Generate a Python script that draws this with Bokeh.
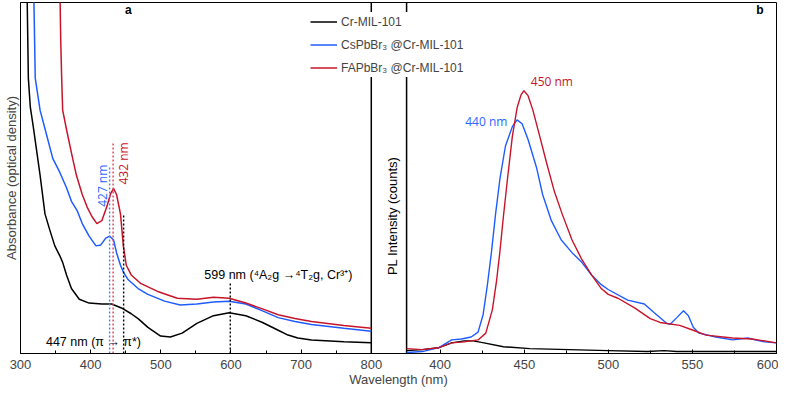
from bokeh.plotting import figure
from bokeh.models import Range1d, FixedTicker, Label, Legend, LegendItem
from bokeh.embed import file_html
from bokeh.resources import INLINE

# ---------------- data: panel a (UV-vis absorbance) ----------------
abs_cr_nm = [309, 311.2, 314.0, 318.2, 327.9, 334.9, 341.9, 348.9, 355.9, 360.1, 365.6, 372.6,
             383.8, 397.8, 415.9, 429.9, 443.9, 457.8, 467.6, 481.6, 499.7, 513.7, 530.4,
             551.4, 575.1, 597.5, 621.2, 645.0, 667.3, 681.3, 695.3, 714.8, 760.9, 800]
abs_cr = [3.9, 2.84, 2.54, 2.34, 1.84, 1.44, 1.27, 1.11, 1.01, 0.94, 0.81, 0.67,
          0.56, 0.52, 0.51, 0.51, 0.47, 0.41, 0.36, 0.27, 0.18, 0.17, 0.21,
          0.31, 0.39, 0.42, 0.39, 0.32, 0.24, 0.19, 0.16, 0.14, 0.12, 0.11]

abs_cs_nm = [318.5, 321.0, 327.9, 337.7, 346.1, 355.9, 365.6, 372.6, 381.0, 388.0, 397.8,
             407.5, 414.5, 421.5, 427.1, 432.7, 436.9, 442.5, 446.6, 453.6, 467.6, 481.6,
             505.3, 527.7, 551.4, 575.1, 597.5, 621.2, 645.0, 667.3, 691.1, 714.8, 760.9, 800]
abs_cs = [3.9, 2.84, 2.51, 2.24, 2.01, 1.87, 1.71, 1.57, 1.47, 1.34, 1.21,
          1.11, 1.12, 1.19, 1.21, 1.17, 1.04, 0.91, 0.84, 0.76, 0.67, 0.61,
          0.54, 0.50, 0.51, 0.53, 0.54, 0.51, 0.44, 0.37, 0.33, 0.30, 0.26, 0.23]

abs_fa_nm = [355.9, 357.3, 358.7, 360.1, 365.6, 372.6, 379.6, 388.0, 395.0, 402.0, 408.9,
             415.9, 422.9, 428.5, 432.7, 436.9, 442.5, 446.6, 450.8, 457.8, 471.8, 495.5,
             523.5, 551.4, 575.1, 597.5, 621.2, 645.0, 667.3, 691.1, 714.8, 760.9, 800]
abs_fa = [3.9, 3.24, 2.84, 2.51, 2.31, 2.07, 1.84, 1.64, 1.51, 1.41, 1.34,
          1.37, 1.51, 1.65, 1.70, 1.64, 1.44, 1.11, 0.91, 0.81, 0.72, 0.64,
          0.57, 0.56, 0.58, 0.57, 0.52, 0.46, 0.40, 0.36, 0.33, 0.29, 0.26]

# ---------------- data: panel b (photoluminescence) ----------------
pl_cr_nm = [380, 389.3, 399.2, 406.8, 414.3, 419.6, 426.0, 437.6, 453.3, 476.6, 499.9,
            523.2, 533.1, 540.7, 600]
pl_cr = [300, 400, 600, 1100, 1300, 1300, 1100, 700, 500, 400, 300,
         200, 300, 200, 200]

pl_cs_nm = [380, 389.3, 399.2, 406.8, 412.6, 418.4, 422.5, 425.5, 428.0, 430.5, 433.0,
            435.5, 438.8, 442.9, 445.7, 448.7, 452.2, 457.4, 460.9, 466.1, 472.0, 478.4,
            484.2, 490.0, 495.8, 499.9, 511.5, 521.4, 527.3, 534.8, 536.6, 540.7, 544.7,
            547.6, 550.5, 554.0, 563.9, 573.8, 583.1, 587.2, 593.0, 600]
pl_cs = [100, 200, 600, 1400, 1500, 1700, 2200, 4000, 7000, 10500, 14500,
         18000, 21400, 23400, 24100, 23700, 22100, 19100, 16400, 13700, 11700, 10400,
         9400, 8100, 7100, 6600, 5500, 5100, 4200, 3100, 3000, 3700, 4400,
         3900, 2700, 2100, 1700, 1400, 1600, 1400, 1200, 1100]

pl_fa_nm = [380, 389.3, 399.2, 406.8, 414.3, 422.5, 427.1, 431.0, 433.5, 435.5, 437.5,
            440.0, 442.9, 445.8, 448.1, 449.8, 452.2, 455.1, 459.2, 463.2, 467.9, 472.5,
            478.4, 484.2, 490.0, 495.8, 499.9, 505.7, 515.6, 524.9, 530.8, 542.4, 550.5,
            558.1, 573.8, 585.5, 600]
pl_fa = [500, 400, 600, 1100, 1200, 1400, 2100, 4500, 7500, 10500, 14000,
         18000, 22400, 25400, 26700, 27100, 26600, 25100, 22400, 19700, 16700, 14400,
         11700, 9700, 8100, 6700, 6100, 5700, 4700, 3600, 3200, 2900, 2400,
         1900, 1600, 1500, 1100]

# ticks
abs_ticks = [300, 400, 500, 600, 700, 800]
abs_minor = [350, 450, 550, 650, 750]
pl_ticks = [400, 450, 500, 550, 600]
pl_minor = [425, 475, 525, 575]

# marked band positions (dotted drop lines)
mark_nm = [427, 432, 447, 599]
mark_top = [1.94, 2.17, 1.44, 0.74]
mark_color = ["#4f7dff", "#e0405a", "#000000", "#000000"]

series_names = ["Cr-MIL-101", "CsPbBr\u2083 @Cr-MIL-101", "FAPbBr\u2083 @Cr-MIL-101"]
series_colors = ["#000000", "#1f5cff", "#c8142a"]

# ---------------- layout ----------------
FONT = "Liberation Sans"
FA = 0.464     # fraction of frame width used by panel a
FB0 = 0.5107   # fraction where panel b starts

x_a = Range1d(300, 300 + 500 / FA)
x_b = Range1d(600 - 220 / (1 - FB0), 600)
y_a = Range1d(0, 3.62)
y_b = Range1d(0, 36200)

p = figure(width=778, height=390, x_range=x_a, y_range=y_a,
           output_backend="svg", toolbar_location=None,
           min_border_left=20, min_border_right=2, min_border_top=2, min_border_bottom=37)
p.extra_x_ranges = {"pl": x_b}
p.extra_y_ranges = {"pl": y_b}
p.xgrid.visible = False
p.ygrid.visible = False
p.outline_line_color = "black"
p.outline_line_width = 1
p.background_fill_color = "white"
p.border_fill_color = "white"


def to_a(v):
    return x_a.start + (v - x_b.start) * (x_a.end - x_a.start) / (x_b.end - x_b.start)


major = [float(t) for t in abs_ticks] + [to_a(t) for t in pl_ticks]
minor = [float(t) for t in abs_minor] + [to_a(t) for t in pl_minor]
labels = [str(t) for t in abs_ticks] + [str(t) for t in pl_ticks]

xa = p.xaxis[0]
xa.ticker = FixedTicker(ticks=major, minor_ticks=minor)
xa.major_label_overrides = {m: l for m, l in zip(major, labels)}
xa.axis_label = "Wavelength (nm)"
xa.axis_label_text_font = FONT
xa.axis_label_text_font_size = "13px"
xa.axis_label_text_font_style = "normal"
xa.axis_label_standoff = 0
xa.major_label_text_font = FONT
xa.major_label_text_font_size = "13px"
xa.major_label_standoff = 6
xa.major_tick_in = 4
xa.major_tick_out = 0
xa.minor_tick_in = 3
xa.minor_tick_out = 0
xa.axis_line_color = "black"

ya = p.yaxis[0]
ya.ticker = FixedTicker(ticks=[])
ya.axis_label = "Absorbance (optical density)"
ya.axis_label_text_font = FONT
ya.axis_label_text_font_size = "13px"
ya.axis_label_text_font_style = "normal"
ya.axis_label_standoff = 2
ya.major_tick_in = 0
ya.major_tick_out = 0
ya.minor_tick_in = 0
ya.minor_tick_out = 0

# inner panel borders (right edge of panel a, left edge of panel b)
p.line(x=[abs_ticks[-1]] * 2, y=[y_a.start, y_a.end], line_color="black", line_width=1.5)
p.line(x=[pl_cr_nm[0]] * 2, y=[y_b.start, y_b.end], line_color="black", line_width=1.5,
       x_range_name="pl", y_range_name="pl")

# curves
r_abs = []
for xs, ys, c in zip([abs_cr_nm, abs_cs_nm, abs_fa_nm], [abs_cr, abs_cs, abs_fa], series_colors):
    r_abs.append(p.line(xs, ys, line_color=c, line_width=1.5))
for xs, ys, c in zip([pl_cr_nm, pl_cs_nm, pl_fa_nm], [pl_cr, pl_cs, pl_fa], series_colors):
    p.line(xs, ys, line_color=c, line_width=1.4, x_range_name="pl", y_range_name="pl")

# dotted drop lines
p.segment(x0=mark_nm, y0=[0] * len(mark_nm), x1=mark_nm, y1=mark_top,
          line_color=mark_color, line_width=1.4, line_dash="2 2")

# texts
ALT = "Open Sans"
ann = [
    ("a", 453.6, 3.54, None, "black", 0, FONT, "bold", "center", "12px"),
    ("b", 590.1, 35400, "pl", "black", 0, FONT, "bold", "center", "12px"),
    ("427 nm", 417.3, 1.73, None, "#2a66ff", 90, ALT, "normal", "center", "12px"),
    ("432 nm", 446.6, 1.96, None, "#c8142a", 90, ALT, "normal", "center", "12px"),
    ("447 nm (\u03c0 \u2192 \u03c0*)", 336.3, 0.12, None, "black", 0, FONT, "normal", "left", "12.5px"),
    ("599 nm (\u2074A\u2082g \u2192\u2074T\u2082g, Cr\u00b3\u207a)", 562.0, 0.81, None, "black", 0, FONT,
     "normal", "left", "12.5px"),
    ("440 nm", 427.4, 23900, "pl", "#2a66ff", 0, ALT, "normal", "center", "12px"),
    ("450 nm", 466.4, 28100, "pl", "#c8142a", 0, ALT, "normal", "center", "12px"),
    ("PL Intensity (counts)", 371.5, 14200, "pl", "black", 90, FONT, "normal", "center", "13px"),
]
for text, x, y, rng, col, ang, fnt, sty, align, size in ann:
    kw = {}
    if rng:
        kw = dict(x_range_name=rng, y_range_name=rng)
    p.add_layout(Label(x=x, y=y, text=text, text_color=col, angle=ang, angle_units="deg",
                       text_font=fnt, text_font_style=sty, text_align=align,
                       text_baseline="middle", text_font_size=size, **kw))

# legend
legend = Legend(items=[LegendItem(label=n, renderers=[r]) for n, r in zip(series_names, r_abs)],
                location=(290, 276), background_fill_color="white", background_fill_alpha=1.0,
                border_line_color=None, padding=4, spacing=4, glyph_width=27, glyph_height=19,
                label_height=19, label_standoff=4, label_text_font=FONT,
                label_text_font_size="12px", margin=0)
p.add_layout(legend)

open("out.html", "w").write(file_html(p, INLINE))
